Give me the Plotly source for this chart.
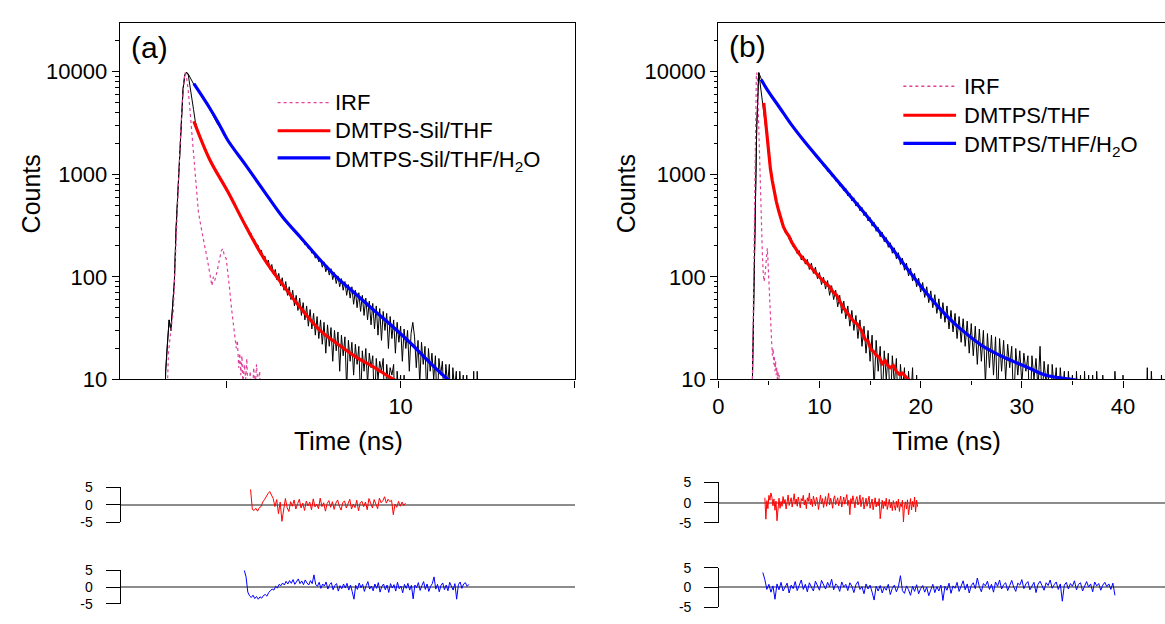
import plotly.graph_objects as go

W, H = 1165, 624
FONT = "Liberation Sans, Arial, sans-serif"

# ---------------- Panel (a): DMTPS-Sil ----------------
A_T0, A_DT = 3.2, 0.05   # channel grid of the decay data (ns)
a_thf_counts = [2, 12, 22, 38, 30, 52, 90, 300, 700, 1800,
                3900, 6800, 9300, 9900, 9300, 7400, 5600, 4300, 3300, 2800,
                2450, 2250, 2130, 1880, 1760, 1560, 1450, 1310, 1260, 1140,
                1100, 990, 960, 870, 830, 750, 720, 650, 630, 560,
                540, 480, 470, 410, 400, 350, 350, 300, 305, 258,
                268, 228, 232, 200, 205, 170, 182, 150, 160, 132,
                146, 118, 132, 105, 118, 93, 108, 82, 98, 74,
                90, 66, 80, 60, 74, 52, 66, 47, 62, 42,
                56, 38, 52, 33, 48, 31, 44, 27, 41, 25,
                38, 22, 36, 18, 34, 21, 32, 15, 30, 19,
                29, 12, 27, 17, 26, 8, 24, 15, 23, 11,
                22, 14, 21, 6, 19, 12, 20, 9, 18, 13,
                17, 5, 16, 10, 15, 12, 16, 4, 14, 9,
                13, 11, 14, 3, 12, 7, 11, 3, 11, 2,
                10, 2, 2]
a_h2o_counts = [2, 12, 22, 38, 30, 52, 90, 300, 700, 1800,
                3900, 6800, 9300, 9900, 9500, 8900, 8300, 7700, 7100, 6900,
                6500, 6000, 5700, 5500, 5100, 4800, 4500, 4100, 3900, 3550,
                3350, 3050, 2900, 2700, 2560, 2400, 2250, 2150, 2010, 1900,
                1810, 1700, 1620, 1530, 1450, 1370, 1310, 1230, 1170, 1100,
                1050, 980, 935, 880, 840, 790, 750, 700, 670, 630,
                600, 565, 540, 505, 485, 455, 430, 400, 390, 360,
                355, 330, 326, 300, 298, 276, 272, 250, 250, 228,
                230, 205, 212, 188, 194, 170, 176, 152, 162, 140,
                150, 124, 140, 112, 128, 104, 120, 94, 110, 86,
                102, 80, 96, 74, 90, 66, 84, 62, 80, 54,
                74, 50, 70, 46, 66, 42, 62, 38, 58, 34,
                55, 31, 52, 27, 49, 24, 46, 30, 44, 20,
                41, 25, 38, 18, 36, 23, 33, 15, 31, 20,
                30, 12, 28, 36, 26, 13, 24, 9, 23, 14,
                21, 7, 20, 12, 18, 10, 17, 5, 16, 11,
                15, 6, 14, 9, 14, 3, 13, 8, 12, 3,
                12, 6, 11, 2, 11, 3, 10, 2, 12, 2,
                12, 2, 2]
a_irf_time = [3.27, 3.33, 3.40, 3.47, 3.53, 3.58, 3.63, 3.68, 3.73, 3.77, 3.80, 3.84, 3.89, 3.94, 3.99,
              4.04, 4.09, 4.14, 4.19, 4.25, 4.31, 4.37, 4.43, 4.49, 4.54, 4.58, 4.62, 4.66, 4.72, 4.78,
              4.85, 4.89, 4.94, 4.99, 5.04, 5.09, 5.14, 5.19, 5.24, 5.28, 5.31, 5.35, 5.38, 5.41, 5.44,
              5.47, 5.51, 5.55, 5.58, 5.62, 5.68, 5.73, 5.78, 5.82, 5.86, 5.90, 5.95, 5.99]
a_irf_counts = [4, 18, 30, 46, 150, 420, 1100, 2600, 5200, 8200, 9800, 9200, 7000, 4600, 2900,
                1900, 1000, 650, 430, 330, 250, 200, 160, 120, 95, 82, 100, 92, 110, 140,
                180, 188, 160, 150, 110, 75, 50, 36, 28, 20, 24, 13, 18, 11, 17,
                9, 14, 10, 16, 7, 12, 6, 13, 8, 14, 9, 12, 5]
a_fit_thf_time = [4.06, 4.51, 5.03, 5.56, 6.08, 6.61, 7.14, 7.66, 8.19, 8.71, 9.24, 9.71, 9.90]
a_fit_thf = [3290, 1403, 682, 308, 150, 84, 49, 30.6, 22.1, 16.6, 13.1, 10.4, 9.6]
a_fit_h2o_time = [4.06, 4.51, 4.77, 5.03, 5.56, 6.08, 6.61, 7.14, 7.66, 8.19, 8.71, 9.24, 9.76, 10.29,
                  10.81, 11.34, 11.50]
a_fit_h2o = [7660, 4460, 3150, 2160, 1216, 682, 383, 239, 150, 97, 68, 47, 33, 22.5, 14.9, 10.1, 9.2]
A_RES_THF_T0, A_RES_DT = 5.69, 0.05
a_res_thf = [4.4, -1.3, -1.6, -1.0, -1.8, -0.8, -0.5, 0.8, 1.5, 2.5, 3.2, 3.8, 2.6, 1.8, -0.5, 1.5, -2.5,
             0.8, -4.7, -1.5, 1.8, -0.8, -1.9, 0.9, -0.4, 1.4, -1.2, 0.3, 1.6, -0.9, 0.5, -1.6, 1.1, -0.3,
             0.8, -1.4, 1.7, -0.6, 0.2, -1.1, 1.9, -0.5, 0.6, -1.8, 0.4, 1.2, -0.7, 0.9, -1.3, 0.5, 1.4,
             -0.4, -1.5, 0.7, 1.1, -0.9, 0.3, 1.6, -1.2, 0.2, -0.8, 1.3, -1.7, 0.6, 1.0, -0.5, 0.8, -1.4,
             1.8, 0.2, -0.9, 1.5, 0.4, -1.1, 1.9, 0.6, 1.2, 2.3, 0.5, 1.6, 0.9, 1.3, -2.8, 0.2, -0.7,
             1.0, -0.4, 0.8, -0.2, 0.5]
A_RES_H2O_T0 = 5.51
a_res_h2o = [4.9, 3.0, -1.5, -2.6, -3.1, -2.4, -3.4, -2.8, -3.6, -2.9, -3.3, -2.5, -2.2, -2.7, -1.6, -1.2,
             -0.6, -0.9, 0.2, -0.3, 0.8, 0.4, 1.2, 0.6, 1.7, 0.9, 1.9, 1.1, 2.2, 0.8, 1.5, 2.4, 1.0, 1.8,
             0.7, 2.1, 1.2, 0.6, 1.9, 1.0, 3.6, 0.8, 0.2, 1.4, -0.4, 0.9, 0.3, 1.5, -0.6, 0.7, 1.3, -0.8,
             0.5, 1.0, -1.2, 0.4, -0.5, 0.9, -0.3, 1.1, -0.9, 0.6, -1.4, -3.6, 0.5, -0.7, 1.2, -0.2, 0.8,
             -1.3, 0.4, 1.6, -0.6, 0.3, -1.1, 0.9, -0.4, 1.3, -1.5, 0.2, 0.9, -0.8, 0.6, -1.6, 1.0, -0.3,
             0.7, -1.2, 1.4, -0.5, 0.3, -1.7, 0.8, -0.4, 1.1, -0.9, 0.5, -3.5, 0.6, -0.2, 1.3, -1.0, 0.4,
             1.6, -0.7, 0.9, -1.3, 0.2, 1.0, 3.0, -0.6, 0.8, -1.4, 0.5, 1.2, -0.8, 0.6, -1.1, 1.4, 0.3,
             -0.9, 1.0, -3.6, 0.7, 1.5, -0.4, 0.9, 1.3, 0.2, 0.8]

# ---------------- Panel (b): DMTPS ----------------
B_T0, B_DT = 3.2, 0.2
b_thf_counts = [1, 12, 150, 3000, 9800, 7000, 5000, 3600, 2300, 1400, 1080, 760, 660, 490, 445, 345, 325,
                272, 275, 232, 238, 195, 200, 168, 180, 146, 160, 133, 148, 118, 136, 108, 124, 96, 110,
                84, 99, 76, 92, 66, 82, 60, 74, 51, 66, 44, 58, 39, 52, 33, 47, 30, 42, 25, 38, 21, 33,
                18, 30, 15, 27, 8, 24, 12, 21, 6, 19, 10, 18, 5, 17, 9, 16, 4, 14, 8, 13, 3, 12, 6, 13,
                3, 11, 5, 2]
b_h2o_counts = [1, 12, 150, 3000, 9800, 8600, 7800, 7400, 6700, 6400,
                5850, 5600, 5120, 4920, 4490, 4330, 3940, 3800, 3450, 3330,
                3030, 2950, 2690, 2630, 2380, 2340, 2110, 2090, 1880, 1880,
                1680, 1690, 1500, 1510, 1340, 1360, 1200, 1230, 1070, 1100,
                960, 990, 860, 890, 770, 800, 690, 730, 615, 655,
                550, 590, 490, 530, 440, 475, 395, 425, 350, 380,
                312, 340, 278, 304, 246, 272, 220, 242, 194, 215,
                170, 192, 150, 172, 132, 152, 116, 136, 102, 122,
                91, 108, 80, 97, 71, 88, 63, 80, 56, 73,
                50, 67, 44, 61, 39, 56, 36, 52, 31, 47,
                29, 44, 25, 41, 23, 39, 21, 37, 18, 35,
                17, 33, 14, 31, 15, 30, 9, 28, 13, 27,
                11, 26, 6, 25, 12, 24, 10, 22, 13, 21,
                5, 20, 11, 19, 9, 18, 12, 17, 4, 17,
                10, 16, 8, 21, 6, 15, 9, 14, 3, 14,
                8, 13, 5, 13, 7, 12, 3, 12, 6, 11,
                2, 12, 4, 11, 2, 12, 3, 11, 2, 11,
                2, 12, 2, 2, 11, 2, 2, 2, 2, 2,
                12, 2, 2, 2, 11, 2, 2, 2, 2, 2,
                2, 2, 2, 2, 2, 2, 13, 2, 12, 2,
                2, 2, 2, 11, 2, 2]
b_irf_time = [3.30, 3.38, 3.45, 3.52, 3.58, 3.64, 3.70, 3.76, 3.80, 3.86, 3.93, 4.00, 4.06, 4.12, 4.20,
              4.28, 4.36, 4.44, 4.52, 4.60, 4.68, 4.76, 4.84, 4.90, 4.97, 5.04, 5.12, 5.20, 5.28, 5.35,
              5.42, 5.48, 5.54, 5.60, 5.66, 5.72, 5.78, 5.84, 5.90, 5.96, 6.02, 6.08]
b_irf_counts = [3, 15, 40, 200, 900, 3000, 6500, 9200, 9800, 8500, 5000, 2600, 1400, 800, 450,
                260, 160, 110, 90, 100, 130, 175, 190, 150, 100, 65, 42, 28, 22, 17,
                20, 14, 17, 12, 15, 11, 13, 10, 12, 9, 11, 6]
b_fit_thf_time = [4.49, 4.67, 4.85, 5.0, 5.15, 5.33, 5.51, 5.73, 5.96, 6.2, 6.43, 6.7, 6.99, 7.25, 7.54,
                  7.9, 8.27, 8.6, 9.0, 9.5, 10.1, 10.6, 11.0, 11.3, 11.7, 12.3, 12.8, 13.1, 13.4, 13.7,
                  14.0, 14.2, 14.5, 14.8, 15.1, 15.4, 15.6, 15.9, 16.2, 16.5, 16.7, 17.0, 17.3, 17.6,
                  17.9, 18.2, 18.6, 19.0]
b_fit_thf = [4970, 3200, 2015, 1480, 1130, 870, 682, 545, 443, 365, 308, 272, 248, 218, 193,
             172, 155, 142, 130, 113, 97, 87, 80, 72, 66, 51, 44, 40, 36.6, 35,
             31, 29.5, 24.6, 23.5, 19.5, 18.5, 17.2, 16.5, 14.2, 15.2, 13.8, 13.0, 13.6, 12.0,
             11.2, 11.5, 10.4, 9.6]
b_fit_h2o_time = [4.23, 4.96, 6.07, 7.17, 8.64, 10.1, 11.58, 13.05, 14.52, 16.0, 17.46, 18.9, 20.4, 21.9,
                  23.3, 24.8, 26.3, 27.8, 29.2, 30.7, 32.2, 33.6, 34.9, 35.5]
b_fit_h2o = [8410, 6400, 4460, 3100, 2015, 1355, 910, 612, 411, 269, 174, 112, 72.8, 49,
             35.4, 26.5, 20.6, 17.2, 14.9, 12.9, 11.1, 10.4, 10.0, 9.8]
B_RES_THF_T0, B_RES_THF_DT = 4.6, 0.1
b_res_thf = [1.2, -4.1, 0.5, -1.5, 1.8, 0.6, 2.4, 1.3, -0.8, 0.9, -1.9, 0.4, -4.5, -0.6, 1.1, -1.4, 0.3,
             -0.9, 1.5, -0.2, 0.8, -1.6, 0.5, 1.9, -0.7, 0.2, 1.2, -1.1, 0.6, 2.2, -0.4, 0.9, -0.9, 1.4,
             0.1, -1.3, 1.0, 0.4, 1.8, -0.6, 0.7, -1.5, 1.2, 0.3, 2.4, -0.5, 0.9, -1.0, 1.6, 0.2, -0.8,
             1.3, 0.5, -1.7, 0.8, 1.9, -0.3, 1.0, -1.2, 0.6, 1.5, -0.9, 0.4, 2.3, -0.6, 1.1, 0.2, -1.4,
             0.9, 1.7, -0.5, 0.6, 1.2, -0.8, 0.5, 1.6, -1.1, 0.3, 1.4, -0.4, 0.9, 2.0, -0.7, 0.6, -3.0,
             1.0, -0.2, 1.7, 0.4, -1.3, 0.8, 1.5, -0.6, 0.2, 1.9, -1.0, 0.7, 1.3, -1.6, 0.3, 1.1, -0.9,
             0.5, 1.6, -1.4, 0.1, 0.9, -1.8, 0.4, 1.2, -1.1, 0.2, -0.8, 1.0, -4.0, -0.5, 0.6, -1.5, 0.3,
             -0.9, 1.1, -1.7, -0.2, 0.8, -1.3, 0.1, -2.0, 0.5, -0.7, -1.9, 0.4, -1.2, 0.9, -2.2, -0.3,
             -1.0, 0.6, -4.8, -0.8, 0.2, -1.6, 0.7, -3.0, -0.5, 1.0, -1.8, 0.3, -1.1, 1.4, -2.3, 0.6, -1.0]
B_RES_H2O_T0, B_RES_H2O_DT = 4.4, 0.2
b_res_h2o = [3.8, 2.0, -0.5, 0.8, -1.2, 0.4, -3.0, 0.9, -0.6, 1.3, -0.9, 0.2, 1.1, -1.4, 0.6, -0.3, 1.5,
             -0.8, 0.4, 1.9, -0.5, 0.8, -1.1, 1.2, 0.1, -0.9, 1.6, 0.3, -0.7, 1.8, 0.5, -0.4, 1.3, 0.2,
             2.1, -0.6, 0.9, 0.4, -1.0, 1.4, 0.1, 0.8, -0.8, 1.2, 0.3, -1.3, 0.7, 1.5, -0.5, 0.2, -1.6,
             0.9, -0.4, 0.6, -1.2, -3.2, 0.3, -0.9, 0.5, -1.4, 0.1, -0.7, 0.8, -1.8, -0.2, 0.6, -1.1, 0.2,
             3.0, -0.8, -1.5, 0.4, -0.6, -2.0, 0.3, -1.0, 0.7, -1.6, -0.3, 0.5, -1.2, 0.1, -2.1, -0.4,
             0.8, -1.3, 0.2, -0.9, 0.6, -3.3, 0.3, -0.7, 1.1, -1.5, 0.4, -0.2, 1.3, -1.0, 0.6, 1.7, -0.6,
             0.9, -1.4, 0.5, 1.2, -0.3, 2.4, 0.2, -1.1, 1.0, 0.4, 1.6, -0.5, 0.8, -1.2, 1.4, 0.3, 1.9,
             -0.4, 0.7, 1.2, -0.8, 0.5, 1.8, 0.1, -1.0, 1.1, 0.6, 2.0, -0.3, 0.9, 1.5, -0.6, 0.4, 1.3,
             -1.3, 0.8, 1.6, 0.2, -0.7, 1.2, 0.5, 1.9, -0.2, 0.7, 1.4, -0.5, 0.9, -3.5, 0.6, 1.3, -0.4,
             1.0, 0.3, 1.7, -0.6, 0.8, 1.2, -0.9, 0.5, 1.5, 0.1, 0.9, -1.1, 1.4, 0.4, 1.0, -0.7, 0.6,
             1.3, 0.2, 0.9, -0.5, 1.1, -2.0]

# axis / tick labels
count_ticks = [10, 100, 1000, 10000]
count_labels = ["10", "100", "1000", "10000"]
count_minor = [m * d for d in (10, 100, 1000) for m in range(2, 10)] + [20000]
a_time_ticks, a_time_labels = [10], ["10"]
a_time_minor = [5, 15]
res_ticks, res_labels = [-5, 0, 5], ["-5", "0", "5"]

RED, BLUE, PINK = "#ff0000", "#0000ff", "#e0409a"


def grid(t0, dt, n):
    return [round(t0 + dt * i, 4) for i in range(n)]


def px(x):
    return x / W


def py(y):
    return 1 - y / H


fig = go.Figure()


def line(x, y, xa, ya, color, width, dash="solid", shape="linear"):
    fig.add_trace(go.Scatter(x=x, y=y, mode="lines", xaxis=xa, yaxis=ya, showlegend=False,
                             hoverinfo="skip",
                             line=dict(color=color, width=width, dash=dash, shape=shape)))


# panel (a)
line(grid(A_T0, A_DT, len(a_thf_counts)), a_thf_counts, "x", "y", "black", 1)
line(grid(A_T0, A_DT, len(a_h2o_counts)), a_h2o_counts, "x", "y", "black", 1)
line(a_irf_time, a_irf_counts, "x", "y", PINK, 1.2, "dot")
line(a_fit_thf_time, a_fit_thf, "x", "y", RED, 3.2, shape="spline")
line(a_fit_h2o_time, a_fit_h2o, "x", "y", BLUE, 3.2, shape="spline")
# panel (b)
line(grid(B_T0, B_DT, len(b_thf_counts)), b_thf_counts, "x2", "y2", "black", 1)
line(grid(B_T0, B_DT, len(b_h2o_counts)), b_h2o_counts, "x2", "y2", "black", 1)
line(b_irf_time, b_irf_counts, "x2", "y2", PINK, 1.2, "dot")
line(b_fit_thf_time, b_fit_thf, "x2", "y2", RED, 3.2)
line(b_fit_h2o_time, b_fit_h2o, "x2", "y2", BLUE, 3.2, shape="spline")
# residuals (share the time axis of their panel, own count axes)
line(grid(A_RES_THF_T0, A_RES_DT, len(a_res_thf)), a_res_thf, "x", "y3", RED, 1)
line(grid(A_RES_H2O_T0, A_RES_DT, len(a_res_h2o)), a_res_h2o, "x", "y4", BLUE, 1)
line(grid(B_RES_THF_T0, B_RES_THF_DT, len(b_res_thf)), b_res_thf, "x2", "y5", RED, 1)
line(grid(B_RES_H2O_T0, B_RES_H2O_DT, len(b_res_h2o)), b_res_h2o, "x2", "y6", BLUE, 1)

A_DOM = [px(114.3), px(572.3)]
B_DOM = [px(716), 1.0]
A_RANGE = [1.93, 15.02]
B_RANGE = [0, 44.15]
MAIN_DOM = [py(384.3), py(15.7)]

tickfont = dict(family=FONT, size=22, color="black")
axcommon = dict(showline=True, linecolor="black", linewidth=1.3, ticks="outside", ticklen=7,
                tickwidth=1.3, tickcolor="black", showgrid=False, zeroline=False, tickfont=tickfont)
ymain = dict(axcommon, type="log", range=[1, 4.474], domain=MAIN_DOM, tickmode="array",
             tickvals=count_ticks, ticktext=count_labels,
             minor=dict(tickmode="array", tickvals=count_minor, ticks="outside", ticklen=3.5,
                        tickwidth=1, tickcolor="black", showgrid=False))

layout = dict(
    width=W, height=H, margin=dict(l=0, r=0, t=0, b=0),
    paper_bgcolor="white", plot_bgcolor="white", hovermode=False,
    font=dict(family=FONT, color="black"),
    xaxis=dict(axcommon, domain=A_DOM, range=A_RANGE, anchor="y", mirror=True, tickmode="array",
               tickvals=a_time_ticks, ticktext=a_time_labels,
               minor=dict(tickmode="array", tickvals=a_time_minor, ticks="outside", ticklen=7,
                          tickwidth=1.3, tickcolor="black", showgrid=False)),
    yaxis=dict(ymain, anchor="x", mirror=True),
    xaxis2=dict(axcommon, domain=B_DOM, range=B_RANGE, anchor="y2", mirror=True, dtick=10, tick0=0,
                minor=dict(dtick=5, ticks="outside", ticklen=4, tickwidth=1, tickcolor="black",
                           showgrid=False)),
    yaxis2=dict(ymain, anchor="x2", mirror=False),
)

res_specs = [("3", A_DOM, 496.0, 532.3), ("4", A_DOM, 581.7, 616.7),
             ("5", B_DOM, 491.0, 532.7), ("6", B_DOM, 579.3, 620.0)]
for k, dom, ytop, ybot in res_specs:
    layout["yaxis" + k] = dict(domain=[py(ybot), py(ytop)], range=[-5, 5], anchor="free",
                               position=dom[0],
                               tickmode="array", tickvals=res_ticks, ticktext=res_labels,
                               ticks="outside", ticklen=14, tickwidth=1.3, tickcolor="black",
                               showline=True, linecolor="black", linewidth=1.3, showgrid=False,
                               zeroline=True, zerolinecolor="#8c8c8c", zerolinewidth=2,
                               ticklabelstandoff=10,
                               tickfont=dict(family=FONT, size=14, color="black"))
fig.update_layout(**layout)

ann = []


def text(s, x, y, size, angle=0, xanchor="center"):
    ann.append(dict(text=s, x=px(x), y=py(y), xref="paper", yref="paper", showarrow=False,
                    xanchor=xanchor, yanchor="middle", textangle=angle, borderpad=0,
                    font=dict(family=FONT, size=size, color="black")))


text("(a)", 125, 41, 30, xanchor="left")
text("(b)", 726, 40, 30, xanchor="left")
text("Counts", 25, 192, 25, angle=-90)
text("Counts", 623, 192, 25, angle=-90)
text("Time (ns)", 344, 448, 26)
text("Time (ns)", 945, 448, 26)

shapes = []
legends = [
    (273, 326, 330, [("IRF", PINK, 1.3, "dot", 98),
                     ("DMTPS-Sil/THF", RED, 3.2, "solid", 127),
                     ("DMTPS-Sil/THF/H<sub>2</sub>O", BLUE, 3.2, "solid", 155)]),
    (902, 955, 962, [("IRF", PINK, 1.3, "dot", 81),
                     ("DMTPS/THF", RED, 3.2, "solid", 111),
                     ("DMTPS/THF/H<sub>2</sub>O", BLUE, 3.2, "solid", 140)]),
]
for x0, x1, xt, items in legends:
    for label, color, width, dash, yy in items:
        shapes.append(dict(type="line", xref="paper", yref="paper", x0=px(x0), x1=px(x1),
                           y0=py(yy), y1=py(yy), line=dict(color=color, width=width, dash=dash)))
        text(label, xt, yy + (3 if "sub" in label else 0), 22, xanchor="left")

fig.update_layout(annotations=ann, shapes=shapes)
fig.write_html("out.html")
